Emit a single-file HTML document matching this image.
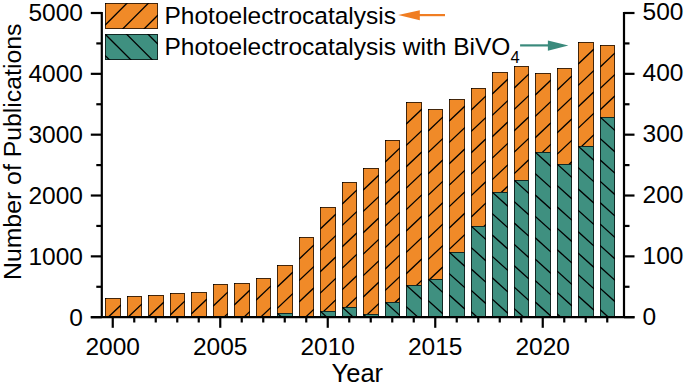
<!DOCTYPE html>
<html><head><meta charset="utf-8"><style>
html,body{margin:0;padding:0;background:#fff;}
body{width:685px;height:384px;overflow:hidden;}
svg{display:block;}
text{font-family:"Liberation Sans",sans-serif;}
</style></head><body><svg width="685" height="384" viewBox="0 0 685 384"><defs><clipPath id="o0"><rect x="105.00" y="298.00" width="16.00" height="19.20"/></clipPath><clipPath id="o1"><rect x="127.00" y="296.00" width="15.00" height="21.20"/></clipPath><clipPath id="o2"><rect x="148.00" y="295.00" width="16.00" height="22.20"/></clipPath><clipPath id="o3"><rect x="170.00" y="293.00" width="15.00" height="24.20"/></clipPath><clipPath id="o4"><rect x="191.00" y="292.00" width="16.00" height="25.20"/></clipPath><clipPath id="o5"><rect x="213.00" y="284.00" width="15.00" height="33.20"/></clipPath><clipPath id="o6"><rect x="234.00" y="283.00" width="16.00" height="34.20"/></clipPath><clipPath id="o7"><rect x="256.00" y="278.00" width="15.00" height="39.20"/></clipPath><clipPath id="o8"><rect x="277.00" y="265.00" width="16.00" height="52.20"/></clipPath><clipPath id="t8"><rect x="277.00" y="313.00" width="16.00" height="4.20"/></clipPath><clipPath id="o9"><rect x="299.00" y="237.00" width="15.00" height="80.20"/></clipPath><clipPath id="o10"><rect x="320.00" y="207.00" width="16.00" height="110.20"/></clipPath><clipPath id="t10"><rect x="320.00" y="311.00" width="16.00" height="6.20"/></clipPath><clipPath id="o11"><rect x="342.00" y="182.00" width="15.00" height="135.20"/></clipPath><clipPath id="t11"><rect x="342.00" y="307.00" width="15.00" height="10.20"/></clipPath><clipPath id="o12"><rect x="363.00" y="168.00" width="16.00" height="149.20"/></clipPath><clipPath id="t12"><rect x="363.00" y="314.00" width="16.00" height="3.20"/></clipPath><clipPath id="o13"><rect x="385.00" y="140.00" width="15.00" height="177.20"/></clipPath><clipPath id="t13"><rect x="385.00" y="302.00" width="15.00" height="15.20"/></clipPath><clipPath id="o14"><rect x="406.00" y="102.00" width="16.00" height="215.20"/></clipPath><clipPath id="t14"><rect x="406.00" y="285.00" width="16.00" height="32.20"/></clipPath><clipPath id="o15"><rect x="428.00" y="109.00" width="15.00" height="208.20"/></clipPath><clipPath id="t15"><rect x="428.00" y="279.00" width="15.00" height="38.20"/></clipPath><clipPath id="o16"><rect x="449.00" y="99.00" width="16.00" height="218.20"/></clipPath><clipPath id="t16"><rect x="449.00" y="252.00" width="16.00" height="65.20"/></clipPath><clipPath id="o17"><rect x="471.00" y="88.00" width="15.00" height="229.20"/></clipPath><clipPath id="t17"><rect x="471.00" y="226.00" width="15.00" height="91.20"/></clipPath><clipPath id="o18"><rect x="492.00" y="72.00" width="16.00" height="245.20"/></clipPath><clipPath id="t18"><rect x="492.00" y="192.00" width="16.00" height="125.20"/></clipPath><clipPath id="o19"><rect x="514.00" y="66.00" width="15.00" height="251.20"/></clipPath><clipPath id="t19"><rect x="514.00" y="180.00" width="15.00" height="137.20"/></clipPath><clipPath id="o20"><rect x="535.00" y="73.00" width="16.00" height="244.20"/></clipPath><clipPath id="t20"><rect x="535.00" y="152.00" width="16.00" height="165.20"/></clipPath><clipPath id="o21"><rect x="557.00" y="68.00" width="15.00" height="249.20"/></clipPath><clipPath id="t21"><rect x="557.00" y="164.00" width="15.00" height="153.20"/></clipPath><clipPath id="o22"><rect x="578.00" y="42.00" width="16.00" height="275.20"/></clipPath><clipPath id="t22"><rect x="578.00" y="146.00" width="16.00" height="171.20"/></clipPath><clipPath id="o23"><rect x="600.00" y="45.00" width="15.00" height="272.20"/></clipPath><clipPath id="t23"><rect x="600.00" y="117.00" width="15.00" height="200.20"/></clipPath><clipPath id="lo"><rect x="105.00" y="3.00" width="53.00" height="26.00"/></clipPath><clipPath id="lt"><rect x="105.00" y="34.00" width="53.00" height="26.00"/></clipPath></defs><rect x="105.00" y="298.00" width="16.00" height="19.20" fill="#F08A28"/><g clip-path="url(#o0)" stroke="#000" stroke-width="1.3"><line x1="105.00" y1="256.00" x2="121.00" y2="240.80"/><line x1="105.00" y1="277.40" x2="121.00" y2="262.20"/><line x1="105.00" y1="298.80" x2="121.00" y2="283.60"/><line x1="105.00" y1="320.20" x2="121.00" y2="305.00"/><line x1="105.00" y1="341.60" x2="121.00" y2="326.40"/><line x1="105.00" y1="363.00" x2="121.00" y2="347.80"/></g><rect x="105.50" y="298.50" width="15.00" height="18.20" fill="none" stroke="#000" stroke-opacity="0.72" stroke-width="1.0"/><rect x="127.00" y="296.00" width="15.00" height="21.20" fill="#F08A28"/><g clip-path="url(#o1)" stroke="#000" stroke-width="1.3"><line x1="127.00" y1="254.00" x2="142.00" y2="239.75"/><line x1="127.00" y1="275.40" x2="142.00" y2="261.15"/><line x1="127.00" y1="296.80" x2="142.00" y2="282.55"/><line x1="127.00" y1="318.20" x2="142.00" y2="303.95"/><line x1="127.00" y1="339.60" x2="142.00" y2="325.35"/><line x1="127.00" y1="361.00" x2="142.00" y2="346.75"/></g><rect x="127.50" y="296.50" width="14.00" height="20.20" fill="none" stroke="#000" stroke-opacity="0.72" stroke-width="1.0"/><rect x="148.00" y="295.00" width="16.00" height="22.20" fill="#F08A28"/><g clip-path="url(#o2)" stroke="#000" stroke-width="1.3"><line x1="148.00" y1="253.00" x2="164.00" y2="237.80"/><line x1="148.00" y1="274.40" x2="164.00" y2="259.20"/><line x1="148.00" y1="295.80" x2="164.00" y2="280.60"/><line x1="148.00" y1="317.20" x2="164.00" y2="302.00"/><line x1="148.00" y1="338.60" x2="164.00" y2="323.40"/><line x1="148.00" y1="360.00" x2="164.00" y2="344.80"/></g><rect x="148.50" y="295.50" width="15.00" height="21.20" fill="none" stroke="#000" stroke-opacity="0.72" stroke-width="1.0"/><rect x="170.00" y="293.00" width="15.00" height="24.20" fill="#F08A28"/><g clip-path="url(#o3)" stroke="#000" stroke-width="1.3"><line x1="170.00" y1="251.00" x2="185.00" y2="236.75"/><line x1="170.00" y1="272.40" x2="185.00" y2="258.15"/><line x1="170.00" y1="293.80" x2="185.00" y2="279.55"/><line x1="170.00" y1="315.20" x2="185.00" y2="300.95"/><line x1="170.00" y1="336.60" x2="185.00" y2="322.35"/><line x1="170.00" y1="358.00" x2="185.00" y2="343.75"/></g><rect x="170.50" y="293.50" width="14.00" height="23.20" fill="none" stroke="#000" stroke-opacity="0.72" stroke-width="1.0"/><rect x="191.00" y="292.00" width="16.00" height="25.20" fill="#F08A28"/><g clip-path="url(#o4)" stroke="#000" stroke-width="1.3"><line x1="191.00" y1="250.00" x2="207.00" y2="234.80"/><line x1="191.00" y1="271.40" x2="207.00" y2="256.20"/><line x1="191.00" y1="292.80" x2="207.00" y2="277.60"/><line x1="191.00" y1="314.20" x2="207.00" y2="299.00"/><line x1="191.00" y1="335.60" x2="207.00" y2="320.40"/><line x1="191.00" y1="357.00" x2="207.00" y2="341.80"/></g><rect x="191.50" y="292.50" width="15.00" height="24.20" fill="none" stroke="#000" stroke-opacity="0.72" stroke-width="1.0"/><rect x="213.00" y="284.00" width="15.00" height="33.20" fill="#F08A28"/><g clip-path="url(#o5)" stroke="#000" stroke-width="1.3"><line x1="213.00" y1="242.00" x2="228.00" y2="227.75"/><line x1="213.00" y1="263.40" x2="228.00" y2="249.15"/><line x1="213.00" y1="284.80" x2="228.00" y2="270.55"/><line x1="213.00" y1="306.20" x2="228.00" y2="291.95"/><line x1="213.00" y1="327.60" x2="228.00" y2="313.35"/><line x1="213.00" y1="349.00" x2="228.00" y2="334.75"/><line x1="213.00" y1="370.40" x2="228.00" y2="356.15"/></g><rect x="213.50" y="284.50" width="14.00" height="32.20" fill="none" stroke="#000" stroke-opacity="0.72" stroke-width="1.0"/><rect x="234.00" y="283.00" width="16.00" height="34.20" fill="#F08A28"/><g clip-path="url(#o6)" stroke="#000" stroke-width="1.3"><line x1="234.00" y1="241.00" x2="250.00" y2="225.80"/><line x1="234.00" y1="262.40" x2="250.00" y2="247.20"/><line x1="234.00" y1="283.80" x2="250.00" y2="268.60"/><line x1="234.00" y1="305.20" x2="250.00" y2="290.00"/><line x1="234.00" y1="326.60" x2="250.00" y2="311.40"/><line x1="234.00" y1="348.00" x2="250.00" y2="332.80"/><line x1="234.00" y1="369.40" x2="250.00" y2="354.20"/></g><rect x="234.50" y="283.50" width="15.00" height="33.20" fill="none" stroke="#000" stroke-opacity="0.72" stroke-width="1.0"/><rect x="256.00" y="278.00" width="15.00" height="39.20" fill="#F08A28"/><g clip-path="url(#o7)" stroke="#000" stroke-width="1.3"><line x1="256.00" y1="236.00" x2="271.00" y2="221.75"/><line x1="256.00" y1="257.40" x2="271.00" y2="243.15"/><line x1="256.00" y1="278.80" x2="271.00" y2="264.55"/><line x1="256.00" y1="300.20" x2="271.00" y2="285.95"/><line x1="256.00" y1="321.60" x2="271.00" y2="307.35"/><line x1="256.00" y1="343.00" x2="271.00" y2="328.75"/><line x1="256.00" y1="364.40" x2="271.00" y2="350.15"/></g><rect x="256.50" y="278.50" width="14.00" height="38.20" fill="none" stroke="#000" stroke-opacity="0.72" stroke-width="1.0"/><rect x="277.00" y="265.00" width="16.00" height="52.20" fill="#F08A28"/><g clip-path="url(#o8)" stroke="#000" stroke-width="1.3"><line x1="277.00" y1="223.00" x2="293.00" y2="207.80"/><line x1="277.00" y1="244.40" x2="293.00" y2="229.20"/><line x1="277.00" y1="265.80" x2="293.00" y2="250.60"/><line x1="277.00" y1="287.20" x2="293.00" y2="272.00"/><line x1="277.00" y1="308.60" x2="293.00" y2="293.40"/><line x1="277.00" y1="330.00" x2="293.00" y2="314.80"/><line x1="277.00" y1="351.40" x2="293.00" y2="336.20"/><line x1="277.00" y1="372.80" x2="293.00" y2="357.60"/></g><rect x="277.50" y="265.50" width="15.00" height="51.20" fill="none" stroke="#000" stroke-opacity="0.72" stroke-width="1.0"/><rect x="277.00" y="313.00" width="16.00" height="4.20" fill="#3F9080"/><g clip-path="url(#t8)" stroke="#000" stroke-width="1.3"><line x1="277.00" y1="270.20" x2="293.00" y2="284.60"/><line x1="277.00" y1="291.60" x2="293.00" y2="306.00"/><line x1="277.00" y1="313.00" x2="293.00" y2="327.40"/><line x1="277.00" y1="334.40" x2="293.00" y2="348.80"/><line x1="277.00" y1="355.80" x2="293.00" y2="370.20"/></g><rect x="277.50" y="313.50" width="15.00" height="3.20" fill="none" stroke="#000" stroke-opacity="0.72" stroke-width="1.0"/><rect x="299.00" y="237.00" width="15.00" height="80.20" fill="#F08A28"/><g clip-path="url(#o9)" stroke="#000" stroke-width="1.3"><line x1="299.00" y1="195.00" x2="314.00" y2="180.75"/><line x1="299.00" y1="216.40" x2="314.00" y2="202.15"/><line x1="299.00" y1="237.80" x2="314.00" y2="223.55"/><line x1="299.00" y1="259.20" x2="314.00" y2="244.95"/><line x1="299.00" y1="280.60" x2="314.00" y2="266.35"/><line x1="299.00" y1="302.00" x2="314.00" y2="287.75"/><line x1="299.00" y1="323.40" x2="314.00" y2="309.15"/><line x1="299.00" y1="344.80" x2="314.00" y2="330.55"/><line x1="299.00" y1="366.20" x2="314.00" y2="351.95"/></g><rect x="299.50" y="237.50" width="14.00" height="79.20" fill="none" stroke="#000" stroke-opacity="0.72" stroke-width="1.0"/><rect x="320.00" y="207.00" width="16.00" height="110.20" fill="#F08A28"/><g clip-path="url(#o10)" stroke="#000" stroke-width="1.3"><line x1="320.00" y1="165.00" x2="336.00" y2="149.80"/><line x1="320.00" y1="186.40" x2="336.00" y2="171.20"/><line x1="320.00" y1="207.80" x2="336.00" y2="192.60"/><line x1="320.00" y1="229.20" x2="336.00" y2="214.00"/><line x1="320.00" y1="250.60" x2="336.00" y2="235.40"/><line x1="320.00" y1="272.00" x2="336.00" y2="256.80"/><line x1="320.00" y1="293.40" x2="336.00" y2="278.20"/><line x1="320.00" y1="314.80" x2="336.00" y2="299.60"/><line x1="320.00" y1="336.20" x2="336.00" y2="321.00"/><line x1="320.00" y1="357.60" x2="336.00" y2="342.40"/></g><rect x="320.50" y="207.50" width="15.00" height="109.20" fill="none" stroke="#000" stroke-opacity="0.72" stroke-width="1.0"/><rect x="320.00" y="311.00" width="16.00" height="6.20" fill="#3F9080"/><g clip-path="url(#t10)" stroke="#000" stroke-width="1.3"><line x1="320.00" y1="268.20" x2="336.00" y2="282.60"/><line x1="320.00" y1="289.60" x2="336.00" y2="304.00"/><line x1="320.00" y1="311.00" x2="336.00" y2="325.40"/><line x1="320.00" y1="332.40" x2="336.00" y2="346.80"/><line x1="320.00" y1="353.80" x2="336.00" y2="368.20"/></g><rect x="320.50" y="311.50" width="15.00" height="5.20" fill="none" stroke="#000" stroke-opacity="0.72" stroke-width="1.0"/><rect x="342.00" y="182.00" width="15.00" height="135.20" fill="#F08A28"/><g clip-path="url(#o11)" stroke="#000" stroke-width="1.3"><line x1="342.00" y1="140.00" x2="357.00" y2="125.75"/><line x1="342.00" y1="161.40" x2="357.00" y2="147.15"/><line x1="342.00" y1="182.80" x2="357.00" y2="168.55"/><line x1="342.00" y1="204.20" x2="357.00" y2="189.95"/><line x1="342.00" y1="225.60" x2="357.00" y2="211.35"/><line x1="342.00" y1="247.00" x2="357.00" y2="232.75"/><line x1="342.00" y1="268.40" x2="357.00" y2="254.15"/><line x1="342.00" y1="289.80" x2="357.00" y2="275.55"/><line x1="342.00" y1="311.20" x2="357.00" y2="296.95"/><line x1="342.00" y1="332.60" x2="357.00" y2="318.35"/><line x1="342.00" y1="354.00" x2="357.00" y2="339.75"/></g><rect x="342.50" y="182.50" width="14.00" height="134.20" fill="none" stroke="#000" stroke-opacity="0.72" stroke-width="1.0"/><rect x="342.00" y="307.00" width="15.00" height="10.20" fill="#3F9080"/><g clip-path="url(#t11)" stroke="#000" stroke-width="1.3"><line x1="342.00" y1="264.20" x2="357.00" y2="277.70"/><line x1="342.00" y1="285.60" x2="357.00" y2="299.10"/><line x1="342.00" y1="307.00" x2="357.00" y2="320.50"/><line x1="342.00" y1="328.40" x2="357.00" y2="341.90"/><line x1="342.00" y1="349.80" x2="357.00" y2="363.30"/><line x1="342.00" y1="371.20" x2="357.00" y2="384.70"/></g><rect x="342.50" y="307.50" width="14.00" height="9.20" fill="none" stroke="#000" stroke-opacity="0.72" stroke-width="1.0"/><rect x="363.00" y="168.00" width="16.00" height="149.20" fill="#F08A28"/><g clip-path="url(#o12)" stroke="#000" stroke-width="1.3"><line x1="363.00" y1="126.00" x2="379.00" y2="110.80"/><line x1="363.00" y1="147.40" x2="379.00" y2="132.20"/><line x1="363.00" y1="168.80" x2="379.00" y2="153.60"/><line x1="363.00" y1="190.20" x2="379.00" y2="175.00"/><line x1="363.00" y1="211.60" x2="379.00" y2="196.40"/><line x1="363.00" y1="233.00" x2="379.00" y2="217.80"/><line x1="363.00" y1="254.40" x2="379.00" y2="239.20"/><line x1="363.00" y1="275.80" x2="379.00" y2="260.60"/><line x1="363.00" y1="297.20" x2="379.00" y2="282.00"/><line x1="363.00" y1="318.60" x2="379.00" y2="303.40"/><line x1="363.00" y1="340.00" x2="379.00" y2="324.80"/><line x1="363.00" y1="361.40" x2="379.00" y2="346.20"/></g><rect x="363.50" y="168.50" width="15.00" height="148.20" fill="none" stroke="#000" stroke-opacity="0.72" stroke-width="1.0"/><rect x="363.00" y="314.00" width="16.00" height="3.20" fill="#3F9080"/><g clip-path="url(#t12)" stroke="#000" stroke-width="1.3"><line x1="363.00" y1="271.20" x2="379.00" y2="285.60"/><line x1="363.00" y1="292.60" x2="379.00" y2="307.00"/><line x1="363.00" y1="314.00" x2="379.00" y2="328.40"/><line x1="363.00" y1="335.40" x2="379.00" y2="349.80"/><line x1="363.00" y1="356.80" x2="379.00" y2="371.20"/></g><rect x="363.50" y="314.50" width="15.00" height="2.20" fill="none" stroke="#000" stroke-opacity="0.72" stroke-width="1.0"/><rect x="385.00" y="140.00" width="15.00" height="177.20" fill="#F08A28"/><g clip-path="url(#o13)" stroke="#000" stroke-width="1.3"><line x1="385.00" y1="98.00" x2="400.00" y2="83.75"/><line x1="385.00" y1="119.40" x2="400.00" y2="105.15"/><line x1="385.00" y1="140.80" x2="400.00" y2="126.55"/><line x1="385.00" y1="162.20" x2="400.00" y2="147.95"/><line x1="385.00" y1="183.60" x2="400.00" y2="169.35"/><line x1="385.00" y1="205.00" x2="400.00" y2="190.75"/><line x1="385.00" y1="226.40" x2="400.00" y2="212.15"/><line x1="385.00" y1="247.80" x2="400.00" y2="233.55"/><line x1="385.00" y1="269.20" x2="400.00" y2="254.95"/><line x1="385.00" y1="290.60" x2="400.00" y2="276.35"/><line x1="385.00" y1="312.00" x2="400.00" y2="297.75"/><line x1="385.00" y1="333.40" x2="400.00" y2="319.15"/><line x1="385.00" y1="354.80" x2="400.00" y2="340.55"/></g><rect x="385.50" y="140.50" width="14.00" height="176.20" fill="none" stroke="#000" stroke-opacity="0.72" stroke-width="1.0"/><rect x="385.00" y="302.00" width="15.00" height="15.20" fill="#3F9080"/><g clip-path="url(#t13)" stroke="#000" stroke-width="1.3"><line x1="385.00" y1="259.20" x2="400.00" y2="272.70"/><line x1="385.00" y1="280.60" x2="400.00" y2="294.10"/><line x1="385.00" y1="302.00" x2="400.00" y2="315.50"/><line x1="385.00" y1="323.40" x2="400.00" y2="336.90"/><line x1="385.00" y1="344.80" x2="400.00" y2="358.30"/><line x1="385.00" y1="366.20" x2="400.00" y2="379.70"/></g><rect x="385.50" y="302.50" width="14.00" height="14.20" fill="none" stroke="#000" stroke-opacity="0.72" stroke-width="1.0"/><rect x="406.00" y="102.00" width="16.00" height="215.20" fill="#F08A28"/><g clip-path="url(#o14)" stroke="#000" stroke-width="1.3"><line x1="406.00" y1="60.00" x2="422.00" y2="44.80"/><line x1="406.00" y1="81.40" x2="422.00" y2="66.20"/><line x1="406.00" y1="102.80" x2="422.00" y2="87.60"/><line x1="406.00" y1="124.20" x2="422.00" y2="109.00"/><line x1="406.00" y1="145.60" x2="422.00" y2="130.40"/><line x1="406.00" y1="167.00" x2="422.00" y2="151.80"/><line x1="406.00" y1="188.40" x2="422.00" y2="173.20"/><line x1="406.00" y1="209.80" x2="422.00" y2="194.60"/><line x1="406.00" y1="231.20" x2="422.00" y2="216.00"/><line x1="406.00" y1="252.60" x2="422.00" y2="237.40"/><line x1="406.00" y1="274.00" x2="422.00" y2="258.80"/><line x1="406.00" y1="295.40" x2="422.00" y2="280.20"/><line x1="406.00" y1="316.80" x2="422.00" y2="301.60"/><line x1="406.00" y1="338.20" x2="422.00" y2="323.00"/><line x1="406.00" y1="359.60" x2="422.00" y2="344.40"/></g><rect x="406.50" y="102.50" width="15.00" height="214.20" fill="none" stroke="#000" stroke-opacity="0.72" stroke-width="1.0"/><rect x="406.00" y="285.00" width="16.00" height="32.20" fill="#3F9080"/><g clip-path="url(#t14)" stroke="#000" stroke-width="1.3"><line x1="406.00" y1="242.20" x2="422.00" y2="256.60"/><line x1="406.00" y1="263.60" x2="422.00" y2="278.00"/><line x1="406.00" y1="285.00" x2="422.00" y2="299.40"/><line x1="406.00" y1="306.40" x2="422.00" y2="320.80"/><line x1="406.00" y1="327.80" x2="422.00" y2="342.20"/><line x1="406.00" y1="349.20" x2="422.00" y2="363.60"/><line x1="406.00" y1="370.60" x2="422.00" y2="385.00"/></g><rect x="406.50" y="285.50" width="15.00" height="31.20" fill="none" stroke="#000" stroke-opacity="0.72" stroke-width="1.0"/><rect x="428.00" y="109.00" width="15.00" height="208.20" fill="#F08A28"/><g clip-path="url(#o15)" stroke="#000" stroke-width="1.3"><line x1="428.00" y1="67.00" x2="443.00" y2="52.75"/><line x1="428.00" y1="88.40" x2="443.00" y2="74.15"/><line x1="428.00" y1="109.80" x2="443.00" y2="95.55"/><line x1="428.00" y1="131.20" x2="443.00" y2="116.95"/><line x1="428.00" y1="152.60" x2="443.00" y2="138.35"/><line x1="428.00" y1="174.00" x2="443.00" y2="159.75"/><line x1="428.00" y1="195.40" x2="443.00" y2="181.15"/><line x1="428.00" y1="216.80" x2="443.00" y2="202.55"/><line x1="428.00" y1="238.20" x2="443.00" y2="223.95"/><line x1="428.00" y1="259.60" x2="443.00" y2="245.35"/><line x1="428.00" y1="281.00" x2="443.00" y2="266.75"/><line x1="428.00" y1="302.40" x2="443.00" y2="288.15"/><line x1="428.00" y1="323.80" x2="443.00" y2="309.55"/><line x1="428.00" y1="345.20" x2="443.00" y2="330.95"/><line x1="428.00" y1="366.60" x2="443.00" y2="352.35"/></g><rect x="428.50" y="109.50" width="14.00" height="207.20" fill="none" stroke="#000" stroke-opacity="0.72" stroke-width="1.0"/><rect x="428.00" y="279.00" width="15.00" height="38.20" fill="#3F9080"/><g clip-path="url(#t15)" stroke="#000" stroke-width="1.3"><line x1="428.00" y1="236.20" x2="443.00" y2="249.70"/><line x1="428.00" y1="257.60" x2="443.00" y2="271.10"/><line x1="428.00" y1="279.00" x2="443.00" y2="292.50"/><line x1="428.00" y1="300.40" x2="443.00" y2="313.90"/><line x1="428.00" y1="321.80" x2="443.00" y2="335.30"/><line x1="428.00" y1="343.20" x2="443.00" y2="356.70"/><line x1="428.00" y1="364.60" x2="443.00" y2="378.10"/></g><rect x="428.50" y="279.50" width="14.00" height="37.20" fill="none" stroke="#000" stroke-opacity="0.72" stroke-width="1.0"/><rect x="449.00" y="99.00" width="16.00" height="218.20" fill="#F08A28"/><g clip-path="url(#o16)" stroke="#000" stroke-width="1.3"><line x1="449.00" y1="57.00" x2="465.00" y2="41.80"/><line x1="449.00" y1="78.40" x2="465.00" y2="63.20"/><line x1="449.00" y1="99.80" x2="465.00" y2="84.60"/><line x1="449.00" y1="121.20" x2="465.00" y2="106.00"/><line x1="449.00" y1="142.60" x2="465.00" y2="127.40"/><line x1="449.00" y1="164.00" x2="465.00" y2="148.80"/><line x1="449.00" y1="185.40" x2="465.00" y2="170.20"/><line x1="449.00" y1="206.80" x2="465.00" y2="191.60"/><line x1="449.00" y1="228.20" x2="465.00" y2="213.00"/><line x1="449.00" y1="249.60" x2="465.00" y2="234.40"/><line x1="449.00" y1="271.00" x2="465.00" y2="255.80"/><line x1="449.00" y1="292.40" x2="465.00" y2="277.20"/><line x1="449.00" y1="313.80" x2="465.00" y2="298.60"/><line x1="449.00" y1="335.20" x2="465.00" y2="320.00"/><line x1="449.00" y1="356.60" x2="465.00" y2="341.40"/></g><rect x="449.50" y="99.50" width="15.00" height="217.20" fill="none" stroke="#000" stroke-opacity="0.72" stroke-width="1.0"/><rect x="449.00" y="252.00" width="16.00" height="65.20" fill="#3F9080"/><g clip-path="url(#t16)" stroke="#000" stroke-width="1.3"><line x1="449.00" y1="209.20" x2="465.00" y2="223.60"/><line x1="449.00" y1="230.60" x2="465.00" y2="245.00"/><line x1="449.00" y1="252.00" x2="465.00" y2="266.40"/><line x1="449.00" y1="273.40" x2="465.00" y2="287.80"/><line x1="449.00" y1="294.80" x2="465.00" y2="309.20"/><line x1="449.00" y1="316.20" x2="465.00" y2="330.60"/><line x1="449.00" y1="337.60" x2="465.00" y2="352.00"/><line x1="449.00" y1="359.00" x2="465.00" y2="373.40"/></g><rect x="449.50" y="252.50" width="15.00" height="64.20" fill="none" stroke="#000" stroke-opacity="0.72" stroke-width="1.0"/><rect x="471.00" y="88.00" width="15.00" height="229.20" fill="#F08A28"/><g clip-path="url(#o17)" stroke="#000" stroke-width="1.3"><line x1="471.00" y1="46.00" x2="486.00" y2="31.75"/><line x1="471.00" y1="67.40" x2="486.00" y2="53.15"/><line x1="471.00" y1="88.80" x2="486.00" y2="74.55"/><line x1="471.00" y1="110.20" x2="486.00" y2="95.95"/><line x1="471.00" y1="131.60" x2="486.00" y2="117.35"/><line x1="471.00" y1="153.00" x2="486.00" y2="138.75"/><line x1="471.00" y1="174.40" x2="486.00" y2="160.15"/><line x1="471.00" y1="195.80" x2="486.00" y2="181.55"/><line x1="471.00" y1="217.20" x2="486.00" y2="202.95"/><line x1="471.00" y1="238.60" x2="486.00" y2="224.35"/><line x1="471.00" y1="260.00" x2="486.00" y2="245.75"/><line x1="471.00" y1="281.40" x2="486.00" y2="267.15"/><line x1="471.00" y1="302.80" x2="486.00" y2="288.55"/><line x1="471.00" y1="324.20" x2="486.00" y2="309.95"/><line x1="471.00" y1="345.60" x2="486.00" y2="331.35"/><line x1="471.00" y1="367.00" x2="486.00" y2="352.75"/></g><rect x="471.50" y="88.50" width="14.00" height="228.20" fill="none" stroke="#000" stroke-opacity="0.72" stroke-width="1.0"/><rect x="471.00" y="226.00" width="15.00" height="91.20" fill="#3F9080"/><g clip-path="url(#t17)" stroke="#000" stroke-width="1.3"><line x1="471.00" y1="183.20" x2="486.00" y2="196.70"/><line x1="471.00" y1="204.60" x2="486.00" y2="218.10"/><line x1="471.00" y1="226.00" x2="486.00" y2="239.50"/><line x1="471.00" y1="247.40" x2="486.00" y2="260.90"/><line x1="471.00" y1="268.80" x2="486.00" y2="282.30"/><line x1="471.00" y1="290.20" x2="486.00" y2="303.70"/><line x1="471.00" y1="311.60" x2="486.00" y2="325.10"/><line x1="471.00" y1="333.00" x2="486.00" y2="346.50"/><line x1="471.00" y1="354.40" x2="486.00" y2="367.90"/></g><rect x="471.50" y="226.50" width="14.00" height="90.20" fill="none" stroke="#000" stroke-opacity="0.72" stroke-width="1.0"/><rect x="492.00" y="72.00" width="16.00" height="245.20" fill="#F08A28"/><g clip-path="url(#o18)" stroke="#000" stroke-width="1.3"><line x1="492.00" y1="30.00" x2="508.00" y2="14.80"/><line x1="492.00" y1="51.40" x2="508.00" y2="36.20"/><line x1="492.00" y1="72.80" x2="508.00" y2="57.60"/><line x1="492.00" y1="94.20" x2="508.00" y2="79.00"/><line x1="492.00" y1="115.60" x2="508.00" y2="100.40"/><line x1="492.00" y1="137.00" x2="508.00" y2="121.80"/><line x1="492.00" y1="158.40" x2="508.00" y2="143.20"/><line x1="492.00" y1="179.80" x2="508.00" y2="164.60"/><line x1="492.00" y1="201.20" x2="508.00" y2="186.00"/><line x1="492.00" y1="222.60" x2="508.00" y2="207.40"/><line x1="492.00" y1="244.00" x2="508.00" y2="228.80"/><line x1="492.00" y1="265.40" x2="508.00" y2="250.20"/><line x1="492.00" y1="286.80" x2="508.00" y2="271.60"/><line x1="492.00" y1="308.20" x2="508.00" y2="293.00"/><line x1="492.00" y1="329.60" x2="508.00" y2="314.40"/><line x1="492.00" y1="351.00" x2="508.00" y2="335.80"/><line x1="492.00" y1="372.40" x2="508.00" y2="357.20"/></g><rect x="492.50" y="72.50" width="15.00" height="244.20" fill="none" stroke="#000" stroke-opacity="0.72" stroke-width="1.0"/><rect x="492.00" y="192.00" width="16.00" height="125.20" fill="#3F9080"/><g clip-path="url(#t18)" stroke="#000" stroke-width="1.3"><line x1="492.00" y1="149.20" x2="508.00" y2="163.60"/><line x1="492.00" y1="170.60" x2="508.00" y2="185.00"/><line x1="492.00" y1="192.00" x2="508.00" y2="206.40"/><line x1="492.00" y1="213.40" x2="508.00" y2="227.80"/><line x1="492.00" y1="234.80" x2="508.00" y2="249.20"/><line x1="492.00" y1="256.20" x2="508.00" y2="270.60"/><line x1="492.00" y1="277.60" x2="508.00" y2="292.00"/><line x1="492.00" y1="299.00" x2="508.00" y2="313.40"/><line x1="492.00" y1="320.40" x2="508.00" y2="334.80"/><line x1="492.00" y1="341.80" x2="508.00" y2="356.20"/><line x1="492.00" y1="363.20" x2="508.00" y2="377.60"/></g><rect x="492.50" y="192.50" width="15.00" height="124.20" fill="none" stroke="#000" stroke-opacity="0.72" stroke-width="1.0"/><rect x="514.00" y="66.00" width="15.00" height="251.20" fill="#F08A28"/><g clip-path="url(#o19)" stroke="#000" stroke-width="1.3"><line x1="514.00" y1="24.00" x2="529.00" y2="9.75"/><line x1="514.00" y1="45.40" x2="529.00" y2="31.15"/><line x1="514.00" y1="66.80" x2="529.00" y2="52.55"/><line x1="514.00" y1="88.20" x2="529.00" y2="73.95"/><line x1="514.00" y1="109.60" x2="529.00" y2="95.35"/><line x1="514.00" y1="131.00" x2="529.00" y2="116.75"/><line x1="514.00" y1="152.40" x2="529.00" y2="138.15"/><line x1="514.00" y1="173.80" x2="529.00" y2="159.55"/><line x1="514.00" y1="195.20" x2="529.00" y2="180.95"/><line x1="514.00" y1="216.60" x2="529.00" y2="202.35"/><line x1="514.00" y1="238.00" x2="529.00" y2="223.75"/><line x1="514.00" y1="259.40" x2="529.00" y2="245.15"/><line x1="514.00" y1="280.80" x2="529.00" y2="266.55"/><line x1="514.00" y1="302.20" x2="529.00" y2="287.95"/><line x1="514.00" y1="323.60" x2="529.00" y2="309.35"/><line x1="514.00" y1="345.00" x2="529.00" y2="330.75"/><line x1="514.00" y1="366.40" x2="529.00" y2="352.15"/></g><rect x="514.50" y="66.50" width="14.00" height="250.20" fill="none" stroke="#000" stroke-opacity="0.72" stroke-width="1.0"/><rect x="514.00" y="180.00" width="15.00" height="137.20" fill="#3F9080"/><g clip-path="url(#t19)" stroke="#000" stroke-width="1.3"><line x1="514.00" y1="137.20" x2="529.00" y2="150.70"/><line x1="514.00" y1="158.60" x2="529.00" y2="172.10"/><line x1="514.00" y1="180.00" x2="529.00" y2="193.50"/><line x1="514.00" y1="201.40" x2="529.00" y2="214.90"/><line x1="514.00" y1="222.80" x2="529.00" y2="236.30"/><line x1="514.00" y1="244.20" x2="529.00" y2="257.70"/><line x1="514.00" y1="265.60" x2="529.00" y2="279.10"/><line x1="514.00" y1="287.00" x2="529.00" y2="300.50"/><line x1="514.00" y1="308.40" x2="529.00" y2="321.90"/><line x1="514.00" y1="329.80" x2="529.00" y2="343.30"/><line x1="514.00" y1="351.20" x2="529.00" y2="364.70"/><line x1="514.00" y1="372.60" x2="529.00" y2="386.10"/></g><rect x="514.50" y="180.50" width="14.00" height="136.20" fill="none" stroke="#000" stroke-opacity="0.72" stroke-width="1.0"/><rect x="535.00" y="73.00" width="16.00" height="244.20" fill="#F08A28"/><g clip-path="url(#o20)" stroke="#000" stroke-width="1.3"><line x1="535.00" y1="31.00" x2="551.00" y2="15.80"/><line x1="535.00" y1="52.40" x2="551.00" y2="37.20"/><line x1="535.00" y1="73.80" x2="551.00" y2="58.60"/><line x1="535.00" y1="95.20" x2="551.00" y2="80.00"/><line x1="535.00" y1="116.60" x2="551.00" y2="101.40"/><line x1="535.00" y1="138.00" x2="551.00" y2="122.80"/><line x1="535.00" y1="159.40" x2="551.00" y2="144.20"/><line x1="535.00" y1="180.80" x2="551.00" y2="165.60"/><line x1="535.00" y1="202.20" x2="551.00" y2="187.00"/><line x1="535.00" y1="223.60" x2="551.00" y2="208.40"/><line x1="535.00" y1="245.00" x2="551.00" y2="229.80"/><line x1="535.00" y1="266.40" x2="551.00" y2="251.20"/><line x1="535.00" y1="287.80" x2="551.00" y2="272.60"/><line x1="535.00" y1="309.20" x2="551.00" y2="294.00"/><line x1="535.00" y1="330.60" x2="551.00" y2="315.40"/><line x1="535.00" y1="352.00" x2="551.00" y2="336.80"/><line x1="535.00" y1="373.40" x2="551.00" y2="358.20"/></g><rect x="535.50" y="73.50" width="15.00" height="243.20" fill="none" stroke="#000" stroke-opacity="0.72" stroke-width="1.0"/><rect x="535.00" y="152.00" width="16.00" height="165.20" fill="#3F9080"/><g clip-path="url(#t20)" stroke="#000" stroke-width="1.3"><line x1="535.00" y1="109.20" x2="551.00" y2="123.60"/><line x1="535.00" y1="130.60" x2="551.00" y2="145.00"/><line x1="535.00" y1="152.00" x2="551.00" y2="166.40"/><line x1="535.00" y1="173.40" x2="551.00" y2="187.80"/><line x1="535.00" y1="194.80" x2="551.00" y2="209.20"/><line x1="535.00" y1="216.20" x2="551.00" y2="230.60"/><line x1="535.00" y1="237.60" x2="551.00" y2="252.00"/><line x1="535.00" y1="259.00" x2="551.00" y2="273.40"/><line x1="535.00" y1="280.40" x2="551.00" y2="294.80"/><line x1="535.00" y1="301.80" x2="551.00" y2="316.20"/><line x1="535.00" y1="323.20" x2="551.00" y2="337.60"/><line x1="535.00" y1="344.60" x2="551.00" y2="359.00"/><line x1="535.00" y1="366.00" x2="551.00" y2="380.40"/></g><rect x="535.50" y="152.50" width="15.00" height="164.20" fill="none" stroke="#000" stroke-opacity="0.72" stroke-width="1.0"/><rect x="557.00" y="68.00" width="15.00" height="249.20" fill="#F08A28"/><g clip-path="url(#o21)" stroke="#000" stroke-width="1.3"><line x1="557.00" y1="26.00" x2="572.00" y2="11.75"/><line x1="557.00" y1="47.40" x2="572.00" y2="33.15"/><line x1="557.00" y1="68.80" x2="572.00" y2="54.55"/><line x1="557.00" y1="90.20" x2="572.00" y2="75.95"/><line x1="557.00" y1="111.60" x2="572.00" y2="97.35"/><line x1="557.00" y1="133.00" x2="572.00" y2="118.75"/><line x1="557.00" y1="154.40" x2="572.00" y2="140.15"/><line x1="557.00" y1="175.80" x2="572.00" y2="161.55"/><line x1="557.00" y1="197.20" x2="572.00" y2="182.95"/><line x1="557.00" y1="218.60" x2="572.00" y2="204.35"/><line x1="557.00" y1="240.00" x2="572.00" y2="225.75"/><line x1="557.00" y1="261.40" x2="572.00" y2="247.15"/><line x1="557.00" y1="282.80" x2="572.00" y2="268.55"/><line x1="557.00" y1="304.20" x2="572.00" y2="289.95"/><line x1="557.00" y1="325.60" x2="572.00" y2="311.35"/><line x1="557.00" y1="347.00" x2="572.00" y2="332.75"/><line x1="557.00" y1="368.40" x2="572.00" y2="354.15"/></g><rect x="557.50" y="68.50" width="14.00" height="248.20" fill="none" stroke="#000" stroke-opacity="0.72" stroke-width="1.0"/><rect x="557.00" y="164.00" width="15.00" height="153.20" fill="#3F9080"/><g clip-path="url(#t21)" stroke="#000" stroke-width="1.3"><line x1="557.00" y1="121.20" x2="572.00" y2="134.70"/><line x1="557.00" y1="142.60" x2="572.00" y2="156.10"/><line x1="557.00" y1="164.00" x2="572.00" y2="177.50"/><line x1="557.00" y1="185.40" x2="572.00" y2="198.90"/><line x1="557.00" y1="206.80" x2="572.00" y2="220.30"/><line x1="557.00" y1="228.20" x2="572.00" y2="241.70"/><line x1="557.00" y1="249.60" x2="572.00" y2="263.10"/><line x1="557.00" y1="271.00" x2="572.00" y2="284.50"/><line x1="557.00" y1="292.40" x2="572.00" y2="305.90"/><line x1="557.00" y1="313.80" x2="572.00" y2="327.30"/><line x1="557.00" y1="335.20" x2="572.00" y2="348.70"/><line x1="557.00" y1="356.60" x2="572.00" y2="370.10"/></g><rect x="557.50" y="164.50" width="14.00" height="152.20" fill="none" stroke="#000" stroke-opacity="0.72" stroke-width="1.0"/><rect x="578.00" y="42.00" width="16.00" height="275.20" fill="#F08A28"/><g clip-path="url(#o22)" stroke="#000" stroke-width="1.3"><line x1="578.00" y1="0.00" x2="594.00" y2="-15.20"/><line x1="578.00" y1="21.40" x2="594.00" y2="6.20"/><line x1="578.00" y1="42.80" x2="594.00" y2="27.60"/><line x1="578.00" y1="64.20" x2="594.00" y2="49.00"/><line x1="578.00" y1="85.60" x2="594.00" y2="70.40"/><line x1="578.00" y1="107.00" x2="594.00" y2="91.80"/><line x1="578.00" y1="128.40" x2="594.00" y2="113.20"/><line x1="578.00" y1="149.80" x2="594.00" y2="134.60"/><line x1="578.00" y1="171.20" x2="594.00" y2="156.00"/><line x1="578.00" y1="192.60" x2="594.00" y2="177.40"/><line x1="578.00" y1="214.00" x2="594.00" y2="198.80"/><line x1="578.00" y1="235.40" x2="594.00" y2="220.20"/><line x1="578.00" y1="256.80" x2="594.00" y2="241.60"/><line x1="578.00" y1="278.20" x2="594.00" y2="263.00"/><line x1="578.00" y1="299.60" x2="594.00" y2="284.40"/><line x1="578.00" y1="321.00" x2="594.00" y2="305.80"/><line x1="578.00" y1="342.40" x2="594.00" y2="327.20"/><line x1="578.00" y1="363.80" x2="594.00" y2="348.60"/></g><rect x="578.50" y="42.50" width="15.00" height="274.20" fill="none" stroke="#000" stroke-opacity="0.72" stroke-width="1.0"/><rect x="578.00" y="146.00" width="16.00" height="171.20" fill="#3F9080"/><g clip-path="url(#t22)" stroke="#000" stroke-width="1.3"><line x1="578.00" y1="103.20" x2="594.00" y2="117.60"/><line x1="578.00" y1="124.60" x2="594.00" y2="139.00"/><line x1="578.00" y1="146.00" x2="594.00" y2="160.40"/><line x1="578.00" y1="167.40" x2="594.00" y2="181.80"/><line x1="578.00" y1="188.80" x2="594.00" y2="203.20"/><line x1="578.00" y1="210.20" x2="594.00" y2="224.60"/><line x1="578.00" y1="231.60" x2="594.00" y2="246.00"/><line x1="578.00" y1="253.00" x2="594.00" y2="267.40"/><line x1="578.00" y1="274.40" x2="594.00" y2="288.80"/><line x1="578.00" y1="295.80" x2="594.00" y2="310.20"/><line x1="578.00" y1="317.20" x2="594.00" y2="331.60"/><line x1="578.00" y1="338.60" x2="594.00" y2="353.00"/><line x1="578.00" y1="360.00" x2="594.00" y2="374.40"/></g><rect x="578.50" y="146.50" width="15.00" height="170.20" fill="none" stroke="#000" stroke-opacity="0.72" stroke-width="1.0"/><rect x="600.00" y="45.00" width="15.00" height="272.20" fill="#F08A28"/><g clip-path="url(#o23)" stroke="#000" stroke-width="1.3"><line x1="600.00" y1="3.00" x2="615.00" y2="-11.25"/><line x1="600.00" y1="24.40" x2="615.00" y2="10.15"/><line x1="600.00" y1="45.80" x2="615.00" y2="31.55"/><line x1="600.00" y1="67.20" x2="615.00" y2="52.95"/><line x1="600.00" y1="88.60" x2="615.00" y2="74.35"/><line x1="600.00" y1="110.00" x2="615.00" y2="95.75"/><line x1="600.00" y1="131.40" x2="615.00" y2="117.15"/><line x1="600.00" y1="152.80" x2="615.00" y2="138.55"/><line x1="600.00" y1="174.20" x2="615.00" y2="159.95"/><line x1="600.00" y1="195.60" x2="615.00" y2="181.35"/><line x1="600.00" y1="217.00" x2="615.00" y2="202.75"/><line x1="600.00" y1="238.40" x2="615.00" y2="224.15"/><line x1="600.00" y1="259.80" x2="615.00" y2="245.55"/><line x1="600.00" y1="281.20" x2="615.00" y2="266.95"/><line x1="600.00" y1="302.60" x2="615.00" y2="288.35"/><line x1="600.00" y1="324.00" x2="615.00" y2="309.75"/><line x1="600.00" y1="345.40" x2="615.00" y2="331.15"/><line x1="600.00" y1="366.80" x2="615.00" y2="352.55"/></g><rect x="600.50" y="45.50" width="14.00" height="271.20" fill="none" stroke="#000" stroke-opacity="0.72" stroke-width="1.0"/><rect x="600.00" y="117.00" width="15.00" height="200.20" fill="#3F9080"/><g clip-path="url(#t23)" stroke="#000" stroke-width="1.3"><line x1="600.00" y1="74.20" x2="615.00" y2="87.70"/><line x1="600.00" y1="95.60" x2="615.00" y2="109.10"/><line x1="600.00" y1="117.00" x2="615.00" y2="130.50"/><line x1="600.00" y1="138.40" x2="615.00" y2="151.90"/><line x1="600.00" y1="159.80" x2="615.00" y2="173.30"/><line x1="600.00" y1="181.20" x2="615.00" y2="194.70"/><line x1="600.00" y1="202.60" x2="615.00" y2="216.10"/><line x1="600.00" y1="224.00" x2="615.00" y2="237.50"/><line x1="600.00" y1="245.40" x2="615.00" y2="258.90"/><line x1="600.00" y1="266.80" x2="615.00" y2="280.30"/><line x1="600.00" y1="288.20" x2="615.00" y2="301.70"/><line x1="600.00" y1="309.60" x2="615.00" y2="323.10"/><line x1="600.00" y1="331.00" x2="615.00" y2="344.50"/><line x1="600.00" y1="352.40" x2="615.00" y2="365.90"/></g><rect x="600.50" y="117.50" width="14.00" height="199.20" fill="none" stroke="#000" stroke-opacity="0.72" stroke-width="1.0"/><rect x="105.00" y="3.00" width="53.00" height="26.00" fill="#F08A28"/><g clip-path="url(#lo)" stroke="#000" stroke-width="1.3"><line x1="105.00" y1="-81.80" x2="158.00" y2="-134.80"/><line x1="105.00" y1="-60.40" x2="158.00" y2="-113.40"/><line x1="105.00" y1="-39.00" x2="158.00" y2="-92.00"/><line x1="105.00" y1="-17.60" x2="158.00" y2="-70.60"/><line x1="105.00" y1="3.80" x2="158.00" y2="-49.20"/><line x1="105.00" y1="25.20" x2="158.00" y2="-27.80"/><line x1="105.00" y1="46.60" x2="158.00" y2="-6.40"/><line x1="105.00" y1="68.00" x2="158.00" y2="15.00"/><line x1="105.00" y1="89.40" x2="158.00" y2="36.40"/><line x1="105.00" y1="110.80" x2="158.00" y2="57.80"/></g><rect x="105.50" y="3.50" width="52.00" height="25.00" fill="none" stroke="#000" stroke-opacity="0.72" stroke-width="1.0"/><rect x="105.00" y="34.00" width="53.00" height="26.00" fill="#3F9080"/><g clip-path="url(#lt)" stroke="#000" stroke-width="1.3"><line x1="105.00" y1="-51.60" x2="158.00" y2="1.40"/><line x1="105.00" y1="-30.20" x2="158.00" y2="22.80"/><line x1="105.00" y1="-8.80" x2="158.00" y2="44.20"/><line x1="105.00" y1="12.60" x2="158.00" y2="65.60"/><line x1="105.00" y1="34.00" x2="158.00" y2="87.00"/><line x1="105.00" y1="55.40" x2="158.00" y2="108.40"/><line x1="105.00" y1="76.80" x2="158.00" y2="129.80"/><line x1="105.00" y1="98.20" x2="158.00" y2="151.20"/><line x1="105.00" y1="119.60" x2="158.00" y2="172.60"/><line x1="105.00" y1="141.00" x2="158.00" y2="194.00"/></g><rect x="105.50" y="34.50" width="52.00" height="25.00" fill="none" stroke="#000" stroke-opacity="0.72" stroke-width="1.0"/><g stroke="#000" stroke-width="2.2" stroke-linecap="butt"><line x1="101.8" y1="11.9" x2="101.8" y2="317.2" /><line x1="624.0" y1="11.9" x2="624.0" y2="317.2" /><line x1="90.8" y1="317.2" x2="634.5" y2="317.2" /><line x1="90.8" y1="317.20" x2="101.8" y2="317.20" /><line x1="624.0" y1="317.20" x2="634.5" y2="317.20" /><line x1="90.8" y1="256.36" x2="101.8" y2="256.36" /><line x1="624.0" y1="256.36" x2="634.5" y2="256.36" /><line x1="90.8" y1="195.52" x2="101.8" y2="195.52" /><line x1="624.0" y1="195.52" x2="634.5" y2="195.52" /><line x1="90.8" y1="134.68" x2="101.8" y2="134.68" /><line x1="624.0" y1="134.68" x2="634.5" y2="134.68" /><line x1="90.8" y1="73.84" x2="101.8" y2="73.84" /><line x1="624.0" y1="73.84" x2="634.5" y2="73.84" /><line x1="90.8" y1="13.00" x2="101.8" y2="13.00" /><line x1="624.0" y1="13.00" x2="634.5" y2="13.00" /><line x1="96.3" y1="286.78" x2="101.8" y2="286.78" /><line x1="624.0" y1="286.78" x2="629.5" y2="286.78" /><line x1="96.3" y1="225.94" x2="101.8" y2="225.94" /><line x1="624.0" y1="225.94" x2="629.5" y2="225.94" /><line x1="96.3" y1="165.10" x2="101.8" y2="165.10" /><line x1="624.0" y1="165.10" x2="629.5" y2="165.10" /><line x1="96.3" y1="104.26" x2="101.8" y2="104.26" /><line x1="624.0" y1="104.26" x2="629.5" y2="104.26" /><line x1="96.3" y1="43.42" x2="101.8" y2="43.42" /><line x1="624.0" y1="43.42" x2="629.5" y2="43.42" /><line x1="112.75" y1="317.2" x2="112.75" y2="327.80" /><line x1="134.25" y1="317.2" x2="134.25" y2="322.50" /><line x1="155.75" y1="317.2" x2="155.75" y2="322.50" /><line x1="177.25" y1="317.2" x2="177.25" y2="322.50" /><line x1="198.75" y1="317.2" x2="198.75" y2="322.50" /><line x1="220.25" y1="317.2" x2="220.25" y2="327.80" /><line x1="241.75" y1="317.2" x2="241.75" y2="322.50" /><line x1="263.25" y1="317.2" x2="263.25" y2="322.50" /><line x1="284.75" y1="317.2" x2="284.75" y2="322.50" /><line x1="306.25" y1="317.2" x2="306.25" y2="322.50" /><line x1="327.75" y1="317.2" x2="327.75" y2="327.80" /><line x1="349.25" y1="317.2" x2="349.25" y2="322.50" /><line x1="370.75" y1="317.2" x2="370.75" y2="322.50" /><line x1="392.25" y1="317.2" x2="392.25" y2="322.50" /><line x1="413.75" y1="317.2" x2="413.75" y2="322.50" /><line x1="435.25" y1="317.2" x2="435.25" y2="327.80" /><line x1="456.75" y1="317.2" x2="456.75" y2="322.50" /><line x1="478.25" y1="317.2" x2="478.25" y2="322.50" /><line x1="499.75" y1="317.2" x2="499.75" y2="322.50" /><line x1="521.25" y1="317.2" x2="521.25" y2="322.50" /><line x1="542.75" y1="317.2" x2="542.75" y2="327.80" /><line x1="564.25" y1="317.2" x2="564.25" y2="322.50" /><line x1="585.75" y1="317.2" x2="585.75" y2="322.50" /><line x1="607.25" y1="317.2" x2="607.25" y2="322.50" /></g><g font-family="Liberation Sans, sans-serif" font-size="24.5" fill="#000"><text x="83.0" y="325.60" text-anchor="end">0</text><text x="642.5" y="324.60" text-anchor="start">0</text><text x="83.0" y="264.76" text-anchor="end">1000</text><text x="642.5" y="263.76" text-anchor="start">100</text><text x="83.0" y="203.92" text-anchor="end">2000</text><text x="642.5" y="202.92" text-anchor="start">200</text><text x="83.0" y="143.08" text-anchor="end">3000</text><text x="642.5" y="142.08" text-anchor="start">300</text><text x="83.0" y="82.24" text-anchor="end">4000</text><text x="642.5" y="81.24" text-anchor="start">400</text><text x="83.0" y="21.40" text-anchor="end">5000</text><text x="642.5" y="20.40" text-anchor="start">500</text><text x="112.75" y="355.1" text-anchor="middle">2000</text><text x="220.25" y="355.1" text-anchor="middle">2005</text><text x="327.75" y="355.1" text-anchor="middle">2010</text><text x="435.25" y="355.1" text-anchor="middle">2015</text><text x="542.75" y="355.1" text-anchor="middle">2020</text><text x="357.3" y="381.7" text-anchor="middle" font-size="25.5">Year</text><text transform="translate(20.9,151.8) rotate(-90)" x="0" y="0" text-anchor="middle" font-size="24.8">Number of Publications</text><text x="164.5" y="23.9">Photoelectrocatalysis</text><text x="164.5" y="54.5">Photoelectrocatalysis with BiVO<tspan font-size="16.5" dy="8.1">4</tspan></text></g><line x1="419" y1="15.1" x2="445" y2="15.1" stroke="#F07D22" stroke-width="2.2"/><polygon points="398.2,15.1 419.8,10.2 419.8,20.2" fill="#F07D22"/><line x1="520.1" y1="45.4" x2="549" y2="45.4" stroke="#3A8A7C" stroke-width="2.2"/><polygon points="568.4,45.6 547.9,40.6 547.9,50.8" fill="#3A8A7C"/></svg></body></html>
